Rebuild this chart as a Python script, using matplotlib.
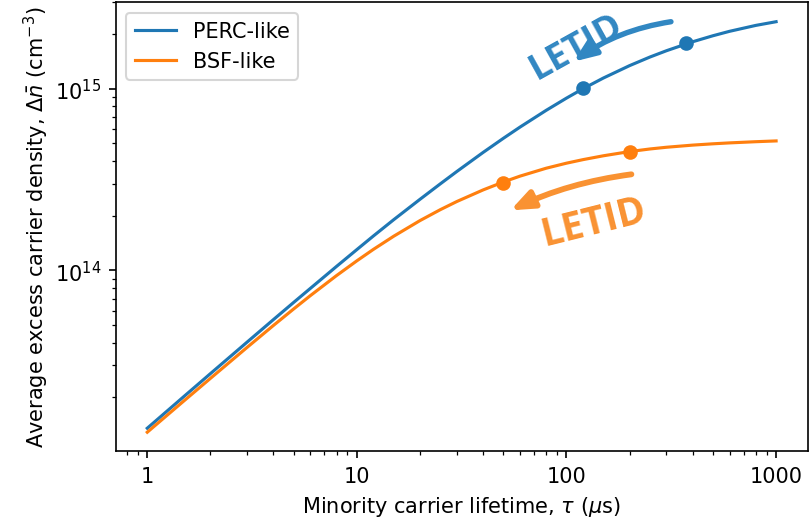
import matplotlib.pyplot as plt

# values (log-log)
tau = [1, 1.5, 2, 3, 4, 5, 6, 8, 10, 12, 15, 20, 25, 30, 40, 50, 60, 80,
       100, 120, 150, 200, 250, 300, 400, 500, 600, 800, 1000]
perc_dn = [1.352e13, 2.027e13, 2.699e13, 4.035e13, 5.36e13, 6.67e13, 7.96e13, 1.052e14,
           1.302e14, 1.548e14, 1.903e14, 2.462e14, 2.995e14, 3.505e14, 4.46e14, 5.337e14,
           6.15e14, 7.607e14, 8.882e14, 1.001e15, 1.146e15, 1.341e15, 1.495e15, 1.62e15,
           1.815e15, 1.959e15, 2.072e15, 2.233e15, 2.34e15]
bsf_dn = [1.285e13, 1.917e13, 2.542e13, 3.774e13, 4.977e13, 6.14e13, 7.262e13, 9.365e13,
          1.129e14, 1.306e14, 1.543e14, 1.88e14, 2.159e14, 2.395e14, 2.773e14, 3.067e14,
          3.303e14, 3.652e14, 3.893e14, 4.073e14, 4.276e14, 4.51e14, 4.661e14, 4.764e14,
          4.895e14, 4.977e14, 5.035e14, 5.111e14, 5.162e14]

perc_mark_tau = [120, 370]
perc_mark_dn = [1.01e15, 1.78e15]
bsf_mark_tau = [50, 200]
bsf_mark_dn = [3.03e14, 4.49e14]

xtick_vals = [1, 10, 100, 1000]
xtick_labels = ['1', '10', '100', '1000']

blue, orange = '#1f77b4', '#ff7f0e'
blue_note, orange_note = '#3187c2', '#f99232'

fig = plt.figure(figsize=(5.4, 3.4533), dpi=150)
ax = fig.add_axes([0.143, 0.127, 0.854, 0.867])

ax.plot(tau, perc_dn, color=blue, label='PERC-like')
ax.plot(tau, bsf_dn, color=orange, label='BSF-like')
ax.plot(perc_mark_tau, perc_mark_dn, 'o', color=blue)
ax.plot(bsf_mark_tau, bsf_mark_dn, 'o', color=orange)

ax.set_xscale('log')
ax.set_yscale('log')
ax.set_xlim(0.708, 1413)
ax.set_ylim(1.01e13, 3.0e15)
ax.set_xticks(xtick_vals)
ax.set_xticklabels(xtick_labels)

ax.set_xlabel(r'Minority carrier lifetime, $\tau$ ($\mu$s)')
ax.set_ylabel(r'Average excess carrier density, $\Delta\bar{n}$ (cm$^{-3}$)', labelpad=1.6)
ax.legend(loc='upper left')

# LETID arrows + labels
ax.annotate('', xy=(108, 1.41e15), xytext=(315, 2.34e15),
            arrowprops=dict(arrowstyle='-|>,head_length=0.45,head_width=0.18', lw=2.6,
                            color=blue_note, mutation_scale=20,
                            connectionstyle='arc3,rad=0.12', shrinkA=0, shrinkB=0))
ax.text(112, 1.70e15, 'LETID', color=blue_note, fontsize=17.5, fontweight='bold',
        family='Open Sans', rotation=29, rotation_mode='anchor', ha='center', va='center')

ax.annotate('', xy=(54, 2.14e14), xytext=(204, 3.38e14),
            arrowprops=dict(arrowstyle='-|>,head_length=0.45,head_width=0.18', lw=2.8,
                            color=orange_note, mutation_scale=20,
                            connectionstyle='arc3,rad=0.08', shrinkA=0, shrinkB=0))
ax.text(135, 1.86e14, 'LETID', color=orange_note, fontsize=18.5, fontweight='bold',
        family='Open Sans', rotation=14, rotation_mode='anchor', ha='center', va='center')

fig.savefig('out.png', dpi=150)
